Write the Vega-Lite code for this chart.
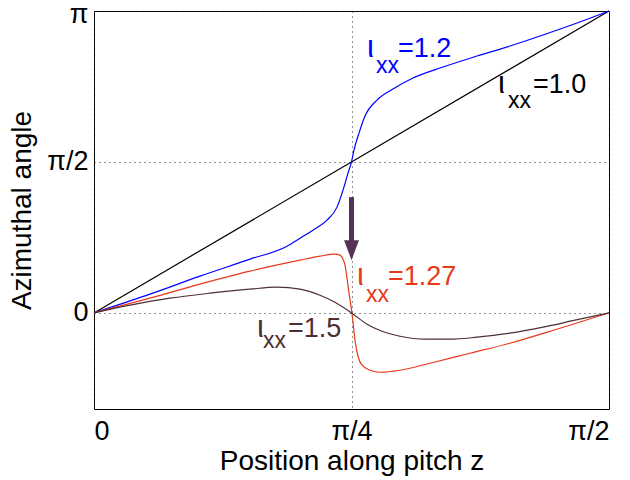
{
  "$schema": "https://vega.github.io/schema/vega-lite/v6.json",
  "autosize": {"type": "none"},
  "padding": {"left": 94, "top": 11, "right": 21, "bottom": 71},
  "width": 515,
  "height": 398,
  "background": "white",
  "config": {
    "view": {"stroke": "black", "strokeWidth": 1},
    "font": "Liberation Sans",
    "axis": {
      "labelFont": "Liberation Sans",
      "titleFont": "Liberation Sans",
      "labelColor": "black",
      "titleColor": "black",
      "titleFontWeight": "normal",
      "domain": false,
      "ticks": false,
      "grid": true,
      "gridColor": "#222",
      "gridDash": [1, 4],
      "gridWidth": 1,
      "labelFontSize": 27,
      "titleFontSize": 28
    }
  },
  "datasets": {
    "curves": [
      {"z": 0, "phi": 0, "s": "1.0"},
      {"z": 1.5708, "phi": 3.1416, "s": "1.0"},

      {"z": 0, "phi": 0, "s": "1.2"},
      {"z": 0.1708, "phi": 0.1947, "s": "1.2"},
      {"z": 0.3233, "phi": 0.3822, "s": "1.2"},
      {"z": 0.4758, "phi": 0.5592, "s": "1.2"},
      {"z": 0.5887, "phi": 0.6945, "s": "1.2"},
      {"z": 0.6283, "phi": 0.7779, "s": "1.2"},
      {"z": 0.6680, "phi": 0.8612, "s": "1.2"},
      {"z": 0.7107, "phi": 0.9653, "s": "1.2"},
      {"z": 0.7412, "phi": 1.1007, "s": "1.2"},
      {"z": 0.7595, "phi": 1.2777, "s": "1.2"},
      {"z": 0.7747, "phi": 1.4547, "s": "1.2"},
      {"z": 0.7854, "phi": 1.5708, "s": "1.2"},
      {"z": 0.7930, "phi": 1.6942, "s": "1.2"},
      {"z": 0.8083, "phi": 1.8712, "s": "1.2"},
      {"z": 0.8266, "phi": 2.0482, "s": "1.2"},
      {"z": 0.8632, "phi": 2.2148, "s": "1.2"},
      {"z": 0.9120, "phi": 2.3294, "s": "1.2"},
      {"z": 0.9730, "phi": 2.4439, "s": "1.2"},
      {"z": 1.0645, "phi": 2.5585, "s": "1.2"},
      {"z": 1.1682, "phi": 2.6730, "s": "1.2"},
      {"z": 1.2688, "phi": 2.7771, "s": "1.2"},
      {"z": 1.3695, "phi": 2.8917, "s": "1.2"},
      {"z": 1.4732, "phi": 3.0166, "s": "1.2"},
      {"z": 1.5708, "phi": 3.1416, "s": "1.2"},

      {"z": 0, "phi": 0, "s": "1.27"},
      {"z": 0.1708, "phi": 0.1531, "s": "1.27"},
      {"z": 0.3233, "phi": 0.2989, "s": "1.27"},
      {"z": 0.4758, "phi": 0.4342, "s": "1.27"},
      {"z": 0.6283, "phi": 0.5488, "s": "1.27"},
      {"z": 0.6893, "phi": 0.5904, "s": "1.27"},
      {"z": 0.7351, "phi": 0.6112, "s": "1.27"},
      {"z": 0.7503, "phi": 0.6008, "s": "1.27"},
      {"z": 0.7595, "phi": 0.5592, "s": "1.27"},
      {"z": 0.7656, "phi": 0.4967, "s": "1.27"},
      {"z": 0.7717, "phi": 0.3613, "s": "1.27"},
      {"z": 0.7778, "phi": 0.2051, "s": "1.27"},
      {"z": 0.7839, "phi": 0.0698, "s": "1.27"},
      {"z": 0.7900, "phi": -0.0968, "s": "1.27"},
      {"z": 0.7961, "phi": -0.2843, "s": "1.27"},
      {"z": 0.8052, "phi": -0.4509, "s": "1.27"},
      {"z": 0.8174, "phi": -0.5446, "s": "1.27"},
      {"z": 0.8418, "phi": -0.5967, "s": "1.27"},
      {"z": 0.8723, "phi": -0.6175, "s": "1.27"},
      {"z": 0.9333, "phi": -0.5967, "s": "1.27"},
      {"z": 1.0248, "phi": -0.5238, "s": "1.27"},
      {"z": 1.1468, "phi": -0.4196, "s": "1.27"},
      {"z": 1.2688, "phi": -0.3155, "s": "1.27"},
      {"z": 1.4213, "phi": -0.1593, "s": "1.27"},
      {"z": 1.5708, "phi": 0, "s": "1.27"},

      {"z": 0, "phi": 0, "s": "1.5"},
      {"z": 0.1098, "phi": 0.0802, "s": "1.5"},
      {"z": 0.2318, "phi": 0.1531, "s": "1.5"},
      {"z": 0.3538, "phi": 0.2051, "s": "1.5"},
      {"z": 0.4758, "phi": 0.2468, "s": "1.5"},
      {"z": 0.5582, "phi": 0.2676, "s": "1.5"},
      {"z": 0.6283, "phi": 0.2468, "s": "1.5"},
      {"z": 0.6893, "phi": 0.1843, "s": "1.5"},
      {"z": 0.7351, "phi": 0.1114, "s": "1.5"},
      {"z": 0.7854, "phi": 0, "s": "1.5"},
      {"z": 0.8327, "phi": -0.1177, "s": "1.5"},
      {"z": 0.8784, "phi": -0.1906, "s": "1.5"},
      {"z": 0.9333, "phi": -0.2426, "s": "1.5"},
      {"z": 1.0096, "phi": -0.2739, "s": "1.5"},
      {"z": 1.0858, "phi": -0.2739, "s": "1.5"},
      {"z": 1.1682, "phi": -0.2530, "s": "1.5"},
      {"z": 1.2688, "phi": -0.2114, "s": "1.5"},
      {"z": 1.3695, "phi": -0.1489, "s": "1.5"},
      {"z": 1.4671, "phi": -0.0760, "s": "1.5"},
      {"z": 1.5708, "phi": 0, "s": "1.5"}
    ],
    "labels": [
      {"z": 0.8327, "phi": 2.6626, "t": "ι", "part": "iota", "s": "1.2"},
      {"z": 0.8601, "phi": 2.4960, "t": "xx", "part": "sub", "s": "1.2"},
      {"z": 0.9272, "phi": 2.6626, "t": "=1.2", "part": "main", "s": "1.2"},
      {"z": 1.2322, "phi": 2.2876, "t": "ι", "part": "iota", "s": "1.0"},
      {"z": 1.2627, "phi": 2.1314, "t": "xx", "part": "sub", "s": "1.0"},
      {"z": 1.3390, "phi": 2.2876, "t": "=1.0", "part": "main", "s": "1.0"},
      {"z": 0.4972, "phi": -0.2530, "t": "ι", "part": "iota", "s": "1.5"},
      {"z": 0.5154, "phi": -0.3676, "t": "xx", "part": "sub", "s": "1.5"},
      {"z": 0.5917, "phi": -0.2530, "t": "=1.5", "part": "main", "s": "1.5"},
      {"z": 0.8022, "phi": 0.2884, "t": "ι", "part": "iota", "s": "1.27"},
      {"z": 0.8296, "phi": 0.1114, "t": "xx", "part": "sub", "s": "1.27"},
      {"z": 0.8967, "phi": 0.2884, "t": "=1.27", "part": "main", "s": "1.27"}
    ],
    "arrow": [
      {"z": 0.7854, "top": 1.2048, "bottom": 0.7029, "head": 0.6529}
    ]
  },
  "layer": [
    {
      "data": {"name": "curves"},
      "mark": {"type": "line", "strokeWidth": 1.2, "interpolate": "monotone"},
      "encoding": {
        "x": {
          "field": "z", "type": "quantitative",
          "scale": {"domain": [0, 1.5707963], "nice": false, "zero": false},
          "axis": {
            "values": [0, 0.7853982, 1.5707963],
            "labelExpr": "datum.value < 0.1 ? '0' : (datum.value < 1 ? 'π/4' : 'π/2')",
            "labelPadding": 9,
            "title": "Position along pitch z",
            "titlePadding": 3
          }
        },
        "y": {
          "field": "phi", "type": "quantitative",
          "scale": {"domain": [-1, 3.1415927], "nice": false, "zero": false},
          "axis": {
            "values": [0, 1.5707963, 3.1415927],
            "labelExpr": "datum.value < 0.1 ? '0' : (datum.value < 2 ? 'π/2' : 'π')",
            "labelOffset": {"condition": {"test": "datum.value > 3", "value": 3}, "value": 0},
            "labelPadding": 6,
            "title": "Azimuthal angle",
            "titlePadding": 10
          }
        },
        "color": {
          "field": "s", "type": "nominal",
          "scale": {"domain": ["1.0", "1.2", "1.27", "1.5"], "range": ["#000000", "#0000ff", "#e63a1a", "#4f2f2f"]},
          "legend": null
        },
        "detail": {"field": "s"}
      }
    },
    {
      "data": {"name": "arrow"},
      "mark": {"type": "rule", "strokeWidth": 5, "color": "#553355"},
      "encoding": {
        "x": {"field": "z", "type": "quantitative"},
        "y": {"field": "top", "type": "quantitative"},
        "y2": {"field": "bottom"}
      }
    },
    {
      "data": {"name": "arrow"},
      "mark": {"type": "point", "shape": "M-0.75,-1L0.75,-1L0,1Z", "size": 400, "filled": true, "color": "#553355", "opacity": 1, "strokeWidth": 0},
      "encoding": {
        "x": {"field": "z", "type": "quantitative"},
        "y": {"field": "head", "type": "quantitative"}
      }
    },
    {
      "data": {"name": "labels"},
      "transform": [{"filter": "datum.part === 'main'"}],
      "mark": {"type": "text", "align": "left", "baseline": "alphabetic", "fontSize": 27, "font": "Liberation Sans"},
      "encoding": {
        "x": {"field": "z", "type": "quantitative"},
        "y": {"field": "phi", "type": "quantitative"},
        "text": {"field": "t"},
        "color": {
          "field": "s", "type": "nominal",
          "scale": {"domain": ["1.0", "1.2", "1.27", "1.5"], "range": ["#000000", "#0000ff", "#e63a1a", "#5c3a3a"]},
          "legend": null
        }
      }
    },
    {
      "data": {"name": "labels"},
      "transform": [{"filter": "datum.part === 'iota'"}],
      "mark": {"type": "text", "align": "left", "baseline": "alphabetic", "fontSize": 31, "font": "Liberation Sans"},
      "encoding": {
        "x": {"field": "z", "type": "quantitative"},
        "y": {"field": "phi", "type": "quantitative"},
        "text": {"field": "t"},
        "color": {"field": "s", "type": "nominal", "legend": null}
      }
    },
    {
      "data": {"name": "labels"},
      "transform": [{"filter": "datum.part === 'sub'"}],
      "mark": {"type": "text", "align": "left", "baseline": "alphabetic", "fontSize": 23, "font": "Liberation Sans"},
      "encoding": {
        "x": {"field": "z", "type": "quantitative"},
        "y": {"field": "phi", "type": "quantitative"},
        "text": {"field": "t"},
        "color": {"field": "s", "type": "nominal", "legend": null}
      }
    }
  ]
}
